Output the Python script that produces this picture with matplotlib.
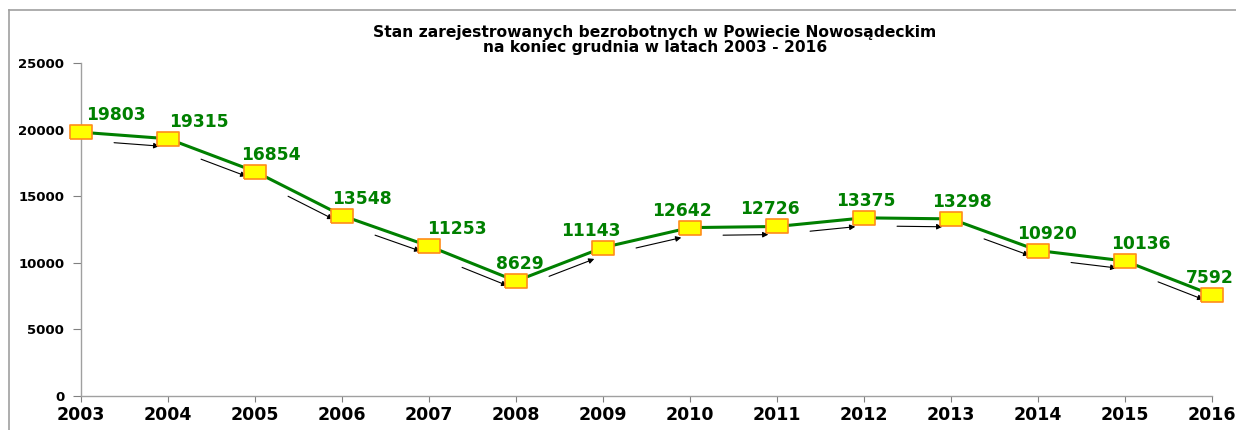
import matplotlib
matplotlib.use("Agg")
import matplotlib.pyplot as plt
from matplotlib.transforms import offset_copy
from matplotlib.lines import Line2D

years = [2003, 2004, 2005, 2006, 2007, 2008, 2009, 2010, 2011, 2012, 2013, 2014, 2015, 2016]
values = [19803, 19315, 16854, 13548, 11253, 8629, 11143, 12642, 12726, 13375, 13298, 10920, 10136, 7592]
title = "Stan zarejestrowanych bezrobotnych w Powiecie Nowosądeckim\nna koniec grudnia w latach 2003 - 2016"
yticks = [0, 5000, 10000, 15000, 20000, 25000]

# label horizontal offsets (pixels) of label centre relative to point
label_dx = [35, 31, 16, 20, 28, 4, -12, -8, -7, 2, 11, 9, 16, -2]

plt.rcParams['font.family'] = ['DejaVu Sans']
fig = plt.figure(figsize=(12.36, 4.30), dpi=100)
ax = fig.add_axes([81/1236, 1 - 396/430, (1212-81)/1236, (396-63)/430])

line_col = '#008000'
ax.plot(years, values, color=line_col, lw=2.2, zorder=3, clip_on=False)
rect = [(-1, -0.58), (1, -0.58), (1, 0.58), (-1, 0.58), (-1, -0.58)]
ax.plot(years, values, linestyle='none', marker=rect, markersize=16.5,
        markerfacecolor='#FFFF00', markeredgecolor='#FF8C1A', markeredgewidth=1.2,
        zorder=4, clip_on=False)

# arrows parallel to each segment, below the line
arr_tr = offset_copy(ax.transData, fig=fig, x=0, y=-8, units='dots')
for i in range(len(years) - 1):
    x0, x1 = years[i], years[i + 1]
    y0, y1 = values[i], values[i + 1]
    fs, fe = 0.38, 0.9
    xs, ys = x0 + (x1 - x0) * fs, y0 + (y1 - y0) * fs
    xe, ye = x0 + (x1 - x0) * fe, y0 + (y1 - y0) * fe
    ax.annotate('', xy=(xe, ye), xycoords=arr_tr, xytext=(xs, ys), textcoords=arr_tr,
                arrowprops=dict(arrowstyle='-|>', color='black', lw=0.8,
                                mutation_scale=8, shrinkA=0, shrinkB=0),
                zorder=2)

for i, (x, v) in enumerate(zip(years, values)):
    ax.annotate(f"{v}", xy=(x, v), xytext=(label_dx[i] * 0.72, 17 * 0.72),
                textcoords='offset points', ha='center', va='center',
                fontsize=12.3, fontweight='bold', color=line_col,
                annotation_clip=False, zorder=5)

ax.set_xlim(2003, 2016)
ax.set_ylim(0, 25000)
ax.set_xticks(years)
ax.set_xticklabels([str(y) for y in years], fontsize=12.5, fontweight='bold')
ax.set_yticks(yticks)
ax.set_yticklabels([str(t) for t in yticks], fontsize=9.5, fontweight='bold')
ax.tick_params(axis='x', length=4, color='#808080', pad=3)
ax.tick_params(axis='y', length=6, color='#808080', pad=6)
for s in ['top', 'right']:
    ax.spines[s].set_visible(False)
for s in ['left', 'bottom']:
    ax.spines[s].set_color('#a0a0a0')
    ax.spines[s].set_linewidth(1.0)

fig.text(655/1236, 1 - 40/430, title, ha='center', va='center',
         fontsize=11.2, fontweight='bold', linespacing=1.05)

# outer frame (partially visible)
fig.add_artist(Line2D([9/1236, 9/1236], [0, 1 - 10/430], transform=fig.transFigure,
                      color='#a0a0a0', lw=1.2))
fig.add_artist(Line2D([9/1236, 1], [1 - 10/430, 1 - 10/430], transform=fig.transFigure,
                      color='#a0a0a0', lw=1.2))

fig.savefig('out.png', dpi=100)
